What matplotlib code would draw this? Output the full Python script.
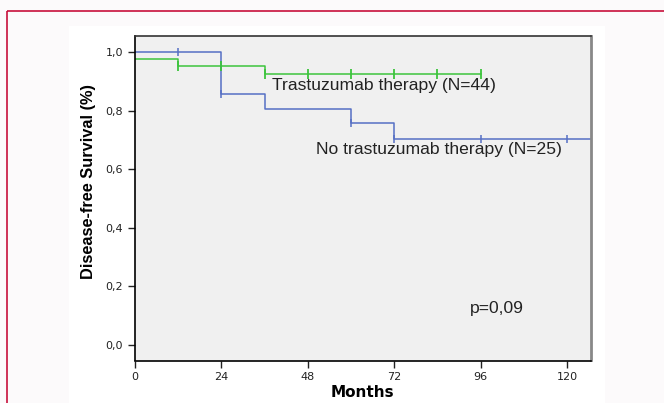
import numpy as np
import matplotlib
matplotlib.use("Agg")
import matplotlib.pyplot as plt
from matplotlib.patches import Rectangle

# Kaplan-Meier steps
tras_times = [0, 12, 36, 96]
tras_surv = [0.977, 0.954, 0.926, 0.926]
tras_censor = [12, 24, 36, 48, 60, 72, 84, 96]

notras_times = [0, 24, 36, 60, 72, 126.6]
notras_surv = [1.0, 0.857, 0.806, 0.757, 0.704, 0.704]
notras_censor = [12, 24, 60, 72, 96, 120]

x_ticks = [0, 24, 48, 72, 96, 120]
y_ticks = [0.0, 0.2, 0.4, 0.6, 0.8, 1.0]
y_ticklabels = ["0,0", "0,2", "0,4", "0,6", "0,8", "1,0"]

blue = "#5670c4"
green = "#3cc43c"


def surv_at(times, surv, t):
    i = np.searchsorted(times, t, side="right") - 1
    return surv[i]


W, H = 664, 403
fig = plt.figure(figsize=(W / 100, H / 100), dpi=100)
fig.patch.set_facecolor("#fcfafb")

# background: red frame and white panel, kept behind the chart
bg = fig.add_axes([0, 0, 1, 1], zorder=-10)
bg.set_xlim(0, W)
bg.set_ylim(H, 0)
bg.axis("off")
bg.add_patch(Rectangle((6.5, 10.7), W, H, fill=False, edgecolor="#c8103c", linewidth=1.2))
bg.add_patch(Rectangle((69, 26), 605 - 69, H, facecolor="white", edgecolor="none"))

ax = fig.add_axes([135 / W, 1 - 360.5 / H, (590.7 - 135) / W, (360.5 - 36.5) / H])
ax.set_facecolor("#f0f0f0")

ax.step(tras_times, tras_surv, where="post", color=green, lw=1.1)
ax.step(notras_times, notras_surv, where="post", color=blue, lw=1.1)

ax.plot(tras_censor, [surv_at(tras_times, tras_surv, t) for t in tras_censor],
        ls="none", marker="|", ms=7, mew=1.3, color=green)
ax.plot(notras_censor, [surv_at(notras_times, notras_surv, t) for t in notras_censor],
        ls="none", marker="|", ms=6, mew=1.1, color=blue)

ax.set_xlim(0, 126.6)
ax.set_ylim(-0.053, 1.054)
ax.set_xticks(x_ticks)
ax.set_yticks(y_ticks)
ax.set_yticklabels(y_ticklabels)
ax.tick_params(direction="out", length=5, width=1, labelsize=8, colors="#222222")

for s in ["left", "bottom"]:
    ax.spines[s].set_color("black")
    ax.spines[s].set_linewidth(1.2)
ax.spines["top"].set_color("#333333")
ax.spines["top"].set_linewidth(1.2)
ax.spines["right"].set_color("#888888")
ax.spines["right"].set_linewidth(2)

ax.text(38, 0.885, "Trastuzumab therapy (N=44)", fontsize=12.6, color="#222222",
        family="Liberation Sans", va="center")
ax.text(50.2, 0.667, "No trastuzumab therapy (N=25)", fontsize=12.6, color="#222222",
        family="Liberation Sans", va="center")
ax.text(93, 0.125, "p=0,09", fontsize=12.6, color="#222222",
        family="Liberation Sans", va="center")

ax.set_xlabel("Months", fontsize=11, fontweight="bold", family="DejaVu Sans")
ax.xaxis.set_label_coords(0.498, -0.100)
ax.xaxis.label.set_va("center")
ax.set_ylabel("Disease-free Survival (%)", fontsize=11.8, fontweight="bold",
              family=["Liberation Sans Narrow", "Liberation Sans"])
ax.yaxis.set_label_coords(-0.103, 0.551)
ax.yaxis.label.set_va("center")

fig.savefig("out.png", dpi=100, facecolor=fig.get_facecolor())
